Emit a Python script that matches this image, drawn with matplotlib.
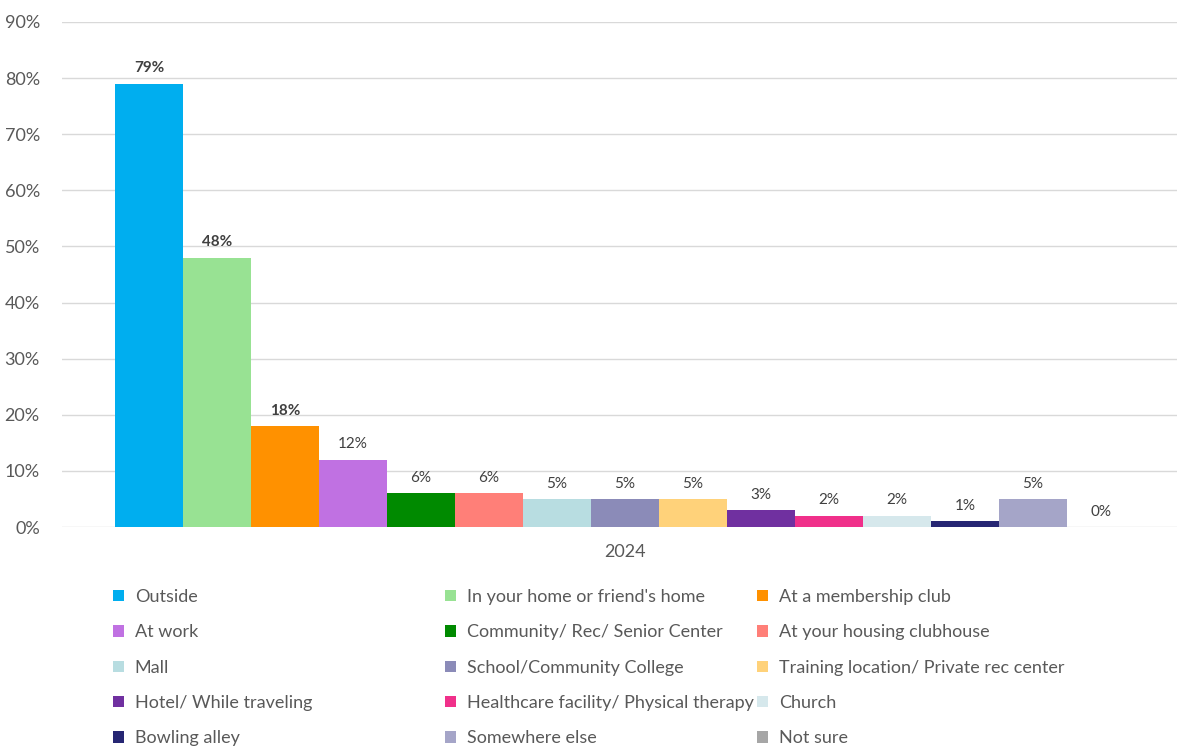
import matplotlib.pyplot as plt
from matplotlib.patches import Patch

# where people play, 2024 survey
places = ["Outside", "In your home or friend's home", "At a membership club",
          "At work", "Community/ Rec/ Senior Center", "At your housing clubhouse",
          "Mall", "School/Community College", "Training location/ Private rec center",
          "Hotel/ While traveling", "Healthcare facility/ Physical therapy", "Church",
          "Bowling alley", "Somewhere else", "Not sure"]
shares = [0.79, 0.48, 0.18, 0.12, 0.06, 0.06, 0.05, 0.05, 0.05, 0.03, 0.02, 0.02, 0.01, 0.05, 0.0]
colors = ["#00AEEF", "#98E293", "#FF9100", "#C071E2", "#008A00", "#FF7F78",
          "#B8DDE1", "#8B8BB8", "#FFD27A", "#7030A0", "#F0308A", "#D6E8EC",
          "#262673", "#A5A5C8", "#A6A6A6"]
year = "2024"

plt.rcParams['font.family'] = ['Lato', 'DejaVu Sans']

fig = plt.figure(figsize=(11.77, 7.47), dpi=100)
ax = fig.add_axes([62 / 1177, 1 - 527 / 747, 1 - 62 / 1177, 505 / 747])

x = list(range(len(places)))
bars = ax.bar(x, shares, width=1.0, color=colors, zorder=3)

for i, (b, v) in enumerate(zip(bars, shares)):
    ax.annotate(f"{v * 100:.0f}%", (b.get_x() + b.get_width() / 2, v),
                xytext=(0, 6), textcoords="offset points", ha="center", va="bottom",
                fontsize=11, color="#404040",
                fontweight="bold" if i < 3 else "normal")

ax.set_ylim(0, 0.9)
ax.set_xlim(-0.5 - 53 / 68, 14.5 + 42 / 68)
ax.set_yticks([i / 10 for i in range(10)])
ax.set_yticklabels([f"{i * 10}%" for i in range(10)])
ax.set_xticks([(len(places) - 1) / 2])
ax.set_xticklabels([year])
ax.tick_params(axis="both", length=0, labelsize=13, labelcolor="#595959")
ax.tick_params(axis="x", pad=12)
ax.tick_params(axis="y", pad=16)
ax.grid(axis="y", color="#D9D9D9", linewidth=1, zorder=0)
for s in ax.spines.values():
    s.set_visible(False)

# legend laid out as three fixed-width columns, filled row by row
handles = [Patch(facecolor=c, edgecolor="none") for c in colors]
col_x = [113 / 1177, 445 / 1177, 757 / 1177]
for c in range(3):
    idx = list(range(c, len(places), 3))
    leg = fig.legend([handles[i] for i in idx], [places[i] for i in idx],
                     loc="upper left", bbox_to_anchor=(col_x[c], 1 - 589 / 747),
                     frameon=False, fontsize=13, labelcolor="#595959",
                     handlelength=0.6, handleheight=0.6, handletextpad=0.6,
                     labelspacing=1.07, borderpad=0, borderaxespad=0)

fig.savefig("out.png", dpi=100, facecolor="white")
